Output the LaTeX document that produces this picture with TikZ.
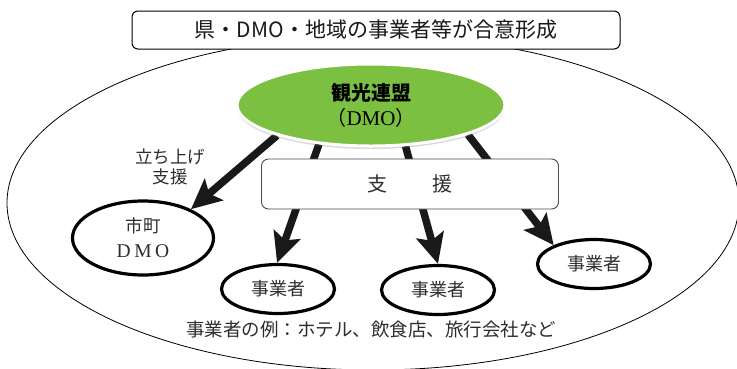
\documentclass[tikz,border=0pt]{standalone}
\usepackage{fontspec}
\setmainfont{Noto Sans CJK JP}
\newfontfamily\serifl{Liberation Serif}
\usetikzlibrary{shapes.geometric,arrows.meta,shadows}
\pgfdeclarelayer{bg}
\pgfsetlayers{bg,main}
\definecolor{dmogreen}{RGB}{124,192,66}
\definecolor{txt}{RGB}{45,45,45}
\tikzset{
  bigarrow/.style={line width=7.5pt, draw=black!90, -{Stealth[length=30pt,width=28pt,inset=6pt]}},
  actor/.style={ellipse, draw, line width=3.2pt, inner sep=0pt, minimum width=113pt, minimum height=49pt, font=\fontsize{18}{20}\selectfont, text=txt},
  titlebox/.style={draw, line width=1pt, rounded corners=6pt, minimum width=488pt, minimum height=38pt, inner sep=0pt, font=\fontsize{21}{25}\selectfont, text=black!90},
  supportbox/.style={draw=black!70, line width=0.9pt, fill=white, rounded corners=7pt, minimum width=297pt, minimum height=50pt, inner sep=0pt, font=\fontsize{20}{24}\selectfont, text=txt},
  hub/.style={ellipse, fill=dmogreen, draw=white, line width=3pt, minimum width=268pt, minimum height=82pt, inner sep=0pt, align=center, font=\fontsize{20}{25}\selectfont,
    drop shadow={shadow xshift=0pt, shadow yshift=-3pt, opacity=0.3, fill=black!50}},
  plaintext/.style={inner sep=0pt, align=center, text=txt}
}
\begin{document}
\begin{tikzpicture}[x=1pt,y=-1pt]
\useasboundingbox (0,0) rectangle (737,368);
\begin{pgfonlayer}{bg}
  \node[ellipse, draw, line width=0.8pt, minimum width=732pt, minimum height=334pt, inner sep=0pt] (region) at (373,203) {};
\end{pgfonlayer}
\node[titlebox, fill=white] (title) at (376,30) {県・DMO・地域の事業者等が合意形成};
\node[hub] (dmo) at (371,105) {\textbf{観光連盟}\\（{\serifl\fontsize{21}{25}\selectfont DMO}）};
\node[supportbox] (support) at (410,184) {支\hspace{45pt}援};
\node[ellipse, draw, line width=3.2pt, inner sep=0pt, minimum width=141pt, minimum height=74pt, align=center, font=\fontsize{17.5}{25}\selectfont, text=txt] (town) at (143,238) {市町\\{\serifl\fontsize{19.5}{25}\selectfont D\hspace{3.5pt}M\hspace{3.5pt}O}};
\node[actor] (biz1) at (278,289) {事業者};
\node[actor] (biz2) at (438,290) {事業者};
\node[actor] (biz3) at (594,264) {事業者};
\node[plaintext, font=\fontsize{17.5}{20}\selectfont] (launch) at (170,167) {立ち上げ\\支援};
\node[plaintext, font=\fontsize{18.5}{22}\selectfont] (note) at (371,329) {事業者の例：ホテル、飲食店、旅行会社など};
\begin{pgfonlayer}{bg}
  \draw[bigarrow] (dmo.198) -- (town.31);
  \draw[bigarrow] (dmo.217.7) -- (biz1.92);
  \draw[bigarrow] (dmo.310.5) -- (biz2.90);
  \draw[bigarrow] (dmo.343.9) -- (biz3.155.7);
\end{pgfonlayer}
\end{tikzpicture}
\end{document}
